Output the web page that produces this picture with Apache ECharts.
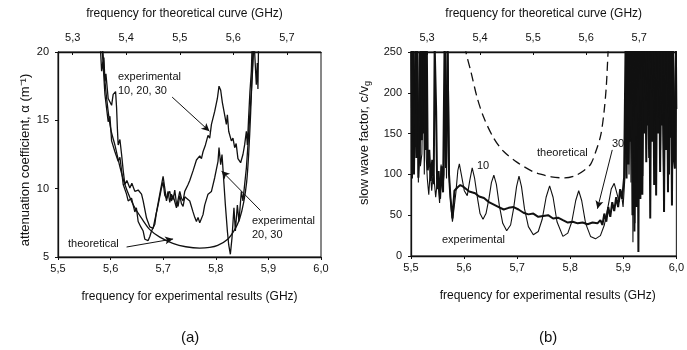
<!DOCTYPE html>
<html>
<head>
<meta charset="utf-8">
<script src="https://cdn.jsdelivr.net/npm/echarts@6/dist/echarts.min.js"></script>
<style>
  html, body { margin: 0; padding: 0; background: #fff; }
  #chart { width: 687px; height: 350px; }
</style>
</head>
<body>
<div id="chart"></div>
<script>
// (a) attenuation coefficient, alpha (1/m)
// theoretical curve, plotted against the top (theoretical) frequency axis
const theoA = [
  [5.3552, 21.5], [5.3565, 20], [5.3602, 17.9], [5.3658, 15.8], [5.3714, 14.3],
  [5.3788, 13.2], [5.3882, 11.6], [5.3975, 10.3], [5.4068, 9.35], [5.4161, 8.6],
  [5.4292, 7.8], [5.4441, 7.0], [5.4627, 6.45], [5.4870, 6.0], [5.5112, 5.75],
  [5.5373, 5.65], [5.5559, 5.7], [5.5708, 5.85], [5.5895, 6.3], [5.6025, 7.0],
  [5.6118, 7.8], [5.6193, 9.0], [5.6249, 10.5], [5.6286, 12.5], [5.6323, 15.5],
  [5.6366, 20], [5.6379, 21.5]
];
// experimental "10, 20, 30" (upper branch)
const expA1 = [
  [5.5829, 21], [5.5860, 18.9], [5.5873, 19.6], [5.5892, 17.85], [5.5911, 18.4],
  [5.5954, 16.6], [5.6019, 16.1], [5.6049, 16.9], [5.6095, 17.1], [5.6114, 15.9],
  [5.6129, 14.4], [5.6144, 13.2], [5.6177, 13.6], [5.6209, 12.5], [5.6240, 11.3],
  [5.6272, 10.3], [5.6309, 10.6], [5.6366, 10.05], [5.6404, 10.4], [5.6461, 9.8],
  [5.6524, 9.9], [5.6588, 9.6], [5.6619, 9.1], [5.6683, 7.85], [5.6746, 7.2],
  [5.6808, 7.1], [5.6873, 8.3], [5.6935, 9.6], [5.6998, 10.9], [5.7030, 10.05],
  [5.7062, 9.1], [5.7093, 9.6], [5.7125, 9.8], [5.7157, 9.1], [5.7188, 9.5],
  [5.7220, 9.6], [5.7252, 8.6], [5.7283, 9.2], [5.7315, 9.8], [5.7347, 9.3],
  [5.7378, 9.1], [5.7410, 9.8], [5.7473, 10.3], [5.7505, 10.6], [5.7567, 11.3],
  [5.7632, 12.1], [5.7695, 12.4], [5.7727, 12.2], [5.7757, 12.7], [5.7803, 13.2],
  [5.7852, 13.9], [5.7884, 13.7], [5.7917, 14.7], [5.7979, 15.65], [5.8030, 16.6],
  [5.8061, 17.5], [5.8093, 17.2], [5.8125, 16.3], [5.8156, 15.65], [5.8201, 14.7],
  [5.8220, 15.4], [5.8245, 14.2], [5.8296, 13.5], [5.8326, 13.7], [5.8359, 13.0],
  [5.8387, 13.3], [5.8421, 12.2], [5.8472, 11.9], [5.8516, 12.5], [5.8548, 13.2],
  [5.8581, 14.2], [5.8600, 13.2], [5.8624, 15.2], [5.8649, 17.1], [5.8676, 18.6],
  [5.8695, 21]
];
// experimental "20, 30" (lower branch)
const expA2 = [
  [5.5797, 21], [5.5829, 18.6], [5.5854, 19.3], [5.5892, 16.9], [5.5954, 14.9],
  [5.5987, 15.3], [5.6019, 13.5], [5.6082, 12.7], [5.6144, 12.0], [5.6177, 12.3],
  [5.6209, 11.3], [5.6240, 10.3], [5.6303, 9.6], [5.6334, 9.1], [5.6398, 9.3],
  [5.6429, 8.8], [5.6461, 8.3], [5.6490, 8.6], [5.6524, 7.6], [5.6575, 7.2],
  [5.6619, 6.9], [5.6651, 6.3], [5.6683, 6.4], [5.6714, 6.2], [5.6746, 6.5],
  [5.6778, 6.9], [5.6841, 7.4], [5.6869, 8.2], [5.6903, 8.8], [5.6968, 10.05],
  [5.6998, 10.5], [5.7030, 9.5], [5.7062, 9.3], [5.7093, 9.8], [5.7125, 9.0],
  [5.7157, 9.6], [5.7188, 9.2], [5.7220, 9.9], [5.7252, 8.9], [5.7283, 8.7],
  [5.7315, 9.5], [5.7347, 8.9], [5.7378, 8.7], [5.7410, 9.4], [5.7442, 9.3],
  [5.7505, 9.1], [5.7567, 8.3], [5.7600, 7.9], [5.7632, 7.6], [5.7662, 7.9],
  [5.7695, 7.5], [5.7757, 8.1], [5.7789, 8.8], [5.7852, 9.6], [5.7917, 9.8],
  [5.7979, 10.8], [5.8042, 12.0], [5.8061, 13.0], [5.8093, 11.75], [5.8118, 12.5],
  [5.8156, 10.3], [5.8182, 8.8], [5.8220, 6.9], [5.8245, 5.9], [5.8277, 5.2],
  [5.8308, 6.4], [5.8345, 8.6], [5.8372, 6.9], [5.8410, 8.8], [5.8440, 7.6],
  [5.8486, 9.8], [5.8516, 9.1], [5.8548, 10.3], [5.8581, 11.5], [5.8611, 13.2],
  [5.8643, 15.2], [5.8676, 17.1], [5.8706, 19.1], [5.8725, 21], [5.8752, 21],
  [5.8770, 17.6], [5.8789, 19.2], [5.8801, 17.3], [5.8814, 21]
];
// annotation arrows for (a): [from, to] in (frequency, alpha)
const arrowsA = [
  [[5.717, 16.7], [5.788, 14.2]],
  [[5.885, 8.4], [5.811, 11.3]],
  [[5.6304, 5.73], [5.7188, 6.32]]
];

// (b) slow wave factor c/vg
const theoB = [
  [5.3725, 258], [5.3733, 250], [5.3826, 226], [5.3949, 193], [5.4074, 169],
  [5.4260, 144], [5.4446, 128], [5.4693, 115], [5.5004, 103], [5.5097, 101],
  [5.5344, 97], [5.5594, 95.7], [5.5780, 98], [5.5966, 105], [5.6089, 113],
  [5.6182, 128], [5.6275, 148], [5.6338, 177], [5.6381, 209], [5.6413, 250],
  [5.6420, 258]
];
// experimental, thick trace ("30")
const expB30 = [
  [5.5009, 258], [5.5019, 95], [5.5037, 258], [5.5056, 100], [5.5084, 258],
  [5.5102, 120], [5.5121, 258], [5.5139, 96], [5.5167, 140], [5.5186, 258],
  [5.5205, 142], [5.5223, 258], [5.5242, 150], [5.5260, 258], [5.5279, 130],
  [5.5298, 258], [5.5316, 105], [5.5344, 130], [5.5372, 92], [5.5400, 118],
  [5.5428, 88], [5.5446, 258], [5.5474, 178], [5.5493, 82], [5.5520, 104],
  [5.5548, 70], [5.5576, 110], [5.5604, 78], [5.5632, 258], [5.5660, 108],
  [5.5688, 258], [5.5716, 100], [5.5743, 72], [5.5781, 46], [5.5818, 80],
  [5.5874, 84], [5.5929, 87], [5.6004, 84], [5.6097, 79], [5.6208, 77],
  [5.6283, 73], [5.6375, 71], [5.6468, 66], [5.6561, 63], [5.6654, 60],
  [5.6747, 57], [5.6840, 59], [5.6933, 60], [5.7026, 57], [5.7119, 53],
  [5.7212, 51], [5.7305, 52], [5.7398, 48], [5.7491, 49], [5.7584, 50],
  [5.7677, 46], [5.7770, 47], [5.7862, 44], [5.7955, 41], [5.8048, 42],
  [5.8141, 40], [5.8234, 41], [5.8327, 39], [5.8420, 41], [5.8513, 40],
  [5.8569, 44], [5.8606, 38], [5.8643, 52], [5.8680, 42], [5.8717, 60],
  [5.8755, 48], [5.8792, 66], [5.8829, 55], [5.8866, 72], [5.8903, 60],
  [5.8941, 82], [5.8978, 70], [5.9015, 96],
  [5.9043, 258], [5.9062, 95], [5.9080, 258], [5.9099, 112], [5.9117, 258],
  [5.9136, 140], [5.9154, 258], [5.9173, 50], [5.9192, 258], [5.9210, 30],
  [5.9229, 258], [5.9247, 60], [5.9266, 258], [5.9285, 5], [5.9303, 258],
  [5.9322, 70], [5.9340, 258], [5.9359, 75], [5.9378, 258], [5.9396, 150],
  [5.9415, 258], [5.9433, 115], [5.9452, 258], [5.9471, 160], [5.9489, 258],
  [5.9508, 46], [5.9526, 258], [5.9545, 140], [5.9564, 258], [5.9582, 87],
  [5.9601, 258], [5.9619, 74], [5.9638, 258], [5.9657, 150], [5.9675, 258],
  [5.9694, 103], [5.9712, 258], [5.9731, 160], [5.9750, 258], [5.9768, 54],
  [5.9787, 258], [5.9805, 130], [5.9824, 258], [5.9842, 78], [5.9861, 258],
  [5.9880, 145], [5.9898, 258], [5.9917, 62], [5.9935, 258], [5.9954, 120],
  [5.9973, 107], [5.9991, 258], [6.0, 180]
];
// experimental, thin oscillating trace ("10")
const expB10 = [
  [5.5000, 258], [5.5015, 140], [5.5030, 258], [5.5059, 105], [5.5074, 258],
  [5.5102, 180], [5.5121, 258], [5.5139, 90], [5.5158, 258], [5.5177, 110],
  [5.5205, 125], [5.5232, 258], [5.5251, 100], [5.5270, 258], [5.5288, 120],
  [5.5307, 95], [5.5335, 75], [5.5362, 105], [5.5390, 80], [5.5409, 96],
  [5.5428, 100], [5.5465, 72], [5.5502, 95], [5.5539, 65], [5.5567, 112],
  [5.5595, 80], [5.5623, 100], [5.5651, 258], [5.5669, 95], [5.5697, 258],
  [5.5725, 90], [5.5753, 60], [5.5781, 42],
  [5.5846, 78], [5.5883, 105], [5.5911, 113], [5.5948, 100], [5.6004, 80],
  [5.6060, 74], [5.6106, 92], [5.6153, 108], [5.6199, 95], [5.6255, 70],
  [5.6301, 52], [5.6357, 45], [5.6413, 52], [5.6468, 70], [5.6515, 90],
  [5.6561, 99], [5.6608, 88], [5.6664, 62], [5.6729, 40], [5.6803, 31],
  [5.6877, 38], [5.6933, 58], [5.6989, 85], [5.7035, 98], [5.7082, 85],
  [5.7138, 58], [5.7212, 36], [5.7305, 26], [5.7398, 30], [5.7472, 45],
  [5.7546, 72], [5.7612, 86], [5.7677, 72], [5.7751, 42], [5.7862, 24],
  [5.7955, 28], [5.8030, 42], [5.8104, 68], [5.8160, 80], [5.8216, 68],
  [5.8290, 40], [5.8383, 24], [5.8476, 21], [5.8569, 25], [5.8643, 38],
  [5.8717, 62], [5.8773, 82], [5.8829, 89], [5.8875, 78], [5.8922, 66],
  [5.8959, 80], [5.8996, 60], [5.9034, 100],
  [5.9052, 258], [5.9071, 120], [5.9090, 258], [5.9108, 100], [5.9127, 258],
  [5.9145, 90], [5.9164, 258], [5.9182, 17], [5.9201, 258], [5.9220, 40],
  [5.9238, 258], [5.9257, 90], [5.9275, 258], [5.9294, 130], [5.9312, 258],
  [5.9331, 165], [5.9350, 258], [5.9368, 98], [5.9387, 258], [5.9424, 190],
  [5.9442, 258], [5.9480, 120], [5.9498, 258], [5.9535, 200], [5.9554, 258],
  [5.9591, 110], [5.9610, 258], [5.9647, 170], [5.9666, 258], [5.9703, 130],
  [5.9721, 258], [5.9759, 95], [5.9777, 258], [5.9814, 180], [5.9833, 258],
  [5.9870, 100], [5.9889, 258], [5.9926, 150], [5.9944, 258], [5.9981, 135],
  [6.0, 258]
];
const arrowsB = [
  [[5.8792, 130], [5.8513, 58]]
];

const INK = '#111';
const FONT = "'Liberation Sans', Arial, sans-serif";
const freqLabel = v => v.toFixed(1).replace('.', ',');

const chart = echarts.init(document.getElementById('chart'));

function xAxisDef(grid, pos, min, max, name, extra) {
  return Object.assign({
    gridIndex: grid,
    type: 'value',
    position: pos,
    min: min,
    max: max,
    name: name,
    nameLocation: 'middle',
    nameGap: 34,
    nameTextStyle: { fontSize: 12, color: INK, fontFamily: FONT },
    axisLine: { show: true, lineStyle: { color: INK, width: 1.3 } },
    axisTick: { show: true, length: 3, lineStyle: { color: INK } },
    axisLabel: { fontSize: 11, color: INK, fontFamily: FONT, margin: 6, formatter: freqLabel },
    splitLine: { show: false }
  }, extra);
}

function topAxis(grid, min, max, pad) {
  return xAxisDef(grid, 'top', min, max, 'frequency for theoretical curve (GHz)', {
    splitNumber: 5,
    nameGap: 32,
    nameTextStyle: { fontSize: 12, color: INK, fontFamily: FONT, padding: pad },
    axisTick: { show: true, inside: true, length: 3, lineStyle: { color: INK } },
    axisLabel: {
      fontSize: 11, color: INK, fontFamily: FONT, margin: 9,
      formatter: freqLabel, showMinLabel: false, showMaxLabel: false
    }
  });
}

function yAxisDef(grid, min, max, interval) {
  return {
    gridIndex: grid, type: 'value', min: min, max: max, interval: interval,
    axisLine: { show: true, lineStyle: { color: INK, width: 1.3 } },
    axisTick: { show: true, length: 3, lineStyle: { color: INK } },
    axisLabel: { fontSize: 11, color: INK, fontFamily: FONT, margin: 9 },
    splitLine: { show: false }
  };
}

const arrowLine = arrows => ({
  silent: true,
  symbol: ['none', 'arrow'],
  symbolSize: [6, 8],
  lineStyle: { color: INK, width: 1, type: 'solid' },
  label: { show: false },
  animation: false,
  data: arrows.map(a => [{ coord: a[0] }, { coord: a[1] }])
});

const textStyle = (txt, size) => ({ text: txt, fontSize: size || 11, fontFamily: FONT, fill: INK });

// rotated axis titles, centred at the given point
const sideTitle = (txt, x, y, rich) => ({
  type: 'text', x: x, y: y, rotation: Math.PI / 2,
  style: {
    text: txt, fontSize: 13, fontFamily: FONT, fill: INK, lineHeight: 17,
    align: 'center', verticalAlign: 'middle',
    textAlign: 'center', textVerticalAlign: 'middle',
    rich: rich || {}
  }
});

const option = {
  animation: false,
  backgroundColor: '#fff',
  textStyle: { fontFamily: FONT },
  grid: [
    { left: 58, top: 52, width: 263, height: 205, show: true, borderColor: INK, borderWidth: 1 },
    { left: 411, top: 52, width: 269, height: 204, show: true, borderColor: INK, borderWidth: 1 }
  ],
  xAxis: [
    xAxisDef(0, 'bottom', 5.5, 6.0, 'frequency for experimental results (GHz)', { interval: 0.1 }),
    topAxis(0, 5.2726, 5.7637, [0, 10, 0, 0]),
    xAxisDef(1, 'bottom', 5.5, 6.0, 'frequency for experimental results (GHz)', {
      interval: 0.1,
      nameTextStyle: { fontSize: 12, color: INK, fontFamily: FONT, padding: [0, 0, 0, 8] }
    }),
    topAxis(1, 5.2697, 5.7701, [0, 0, 0, 0])
  ],
  yAxis: [
    yAxisDef(0, 5, 20, 5),
    yAxisDef(1, 0, 250, 50)
  ],
  series: [
    {
      name: 'theoretical (a)', type: 'line', xAxisIndex: 1, yAxisIndex: 0,
      data: theoA, symbol: 'none', smooth: 0.3, clip: true,
      lineStyle: { color: INK, width: 1.3 }
    },
    {
      name: 'experimental 10, 20, 30', type: 'line', xAxisIndex: 0, yAxisIndex: 0,
      data: expA1, symbol: 'none', clip: true,
      lineStyle: { color: INK, width: 1.3 }
    },
    {
      name: 'experimental 20, 30', type: 'line', xAxisIndex: 0, yAxisIndex: 0,
      data: expA2, symbol: 'none', clip: true,
      lineStyle: { color: INK, width: 1.3 },
      markLine: arrowLine(arrowsA)
    },
    {
      name: 'theoretical (b)', type: 'line', xAxisIndex: 3, yAxisIndex: 1,
      data: theoB, symbol: 'none', smooth: 0.3, clip: true,
      lineStyle: { color: INK, width: 1.3, type: [9, 5] }
    },
    {
      name: 'experimental 30', type: 'line', xAxisIndex: 2, yAxisIndex: 1,
      data: expB30, symbol: 'none', clip: true,
      lineStyle: { color: INK, width: 2 }
    },
    {
      name: 'experimental 10', type: 'line', xAxisIndex: 2, yAxisIndex: 1,
      data: expB10, symbol: 'none', clip: true,
      lineStyle: { color: INK, width: 1.1 },
      markLine: arrowLine(arrowsB)
    }
  ],
  graphic: [
    sideTitle('attenuation coefficient, α (m⁻¹)', 25, 160),
    sideTitle('slow wave factor, c/v{g|g}', 364, 143, {
      g: { fontSize: 9, fontFamily: FONT, fill: INK, lineHeight: 10, verticalAlign: 'bottom' }
    }),
    { type: 'text', left: 118, top: 71, style: textStyle('experimental') },
    { type: 'text', left: 118, top: 85, style: textStyle('10, 20, 30') },
    { type: 'text', left: 252, top: 215, style: textStyle('experimental') },
    { type: 'text', left: 252, top: 229, style: textStyle('20, 30') },
    { type: 'text', left: 68, top: 238, style: textStyle('theoretical') },
    { type: 'text', left: 477, top: 160, style: textStyle('10') },
    { type: 'text', left: 612, top: 138, style: textStyle('30') },
    { type: 'text', left: 537, top: 147, style: textStyle('theoretical') },
    { type: 'text', left: 442, top: 234, style: textStyle('experimental') },
    { type: 'text', left: 181, top: 330, style: textStyle('(a)', 15) },
    { type: 'text', left: 539, top: 330, style: textStyle('(b)', 15) }
  ]
};

chart.setOption(option);
</script>
</body>
</html>
